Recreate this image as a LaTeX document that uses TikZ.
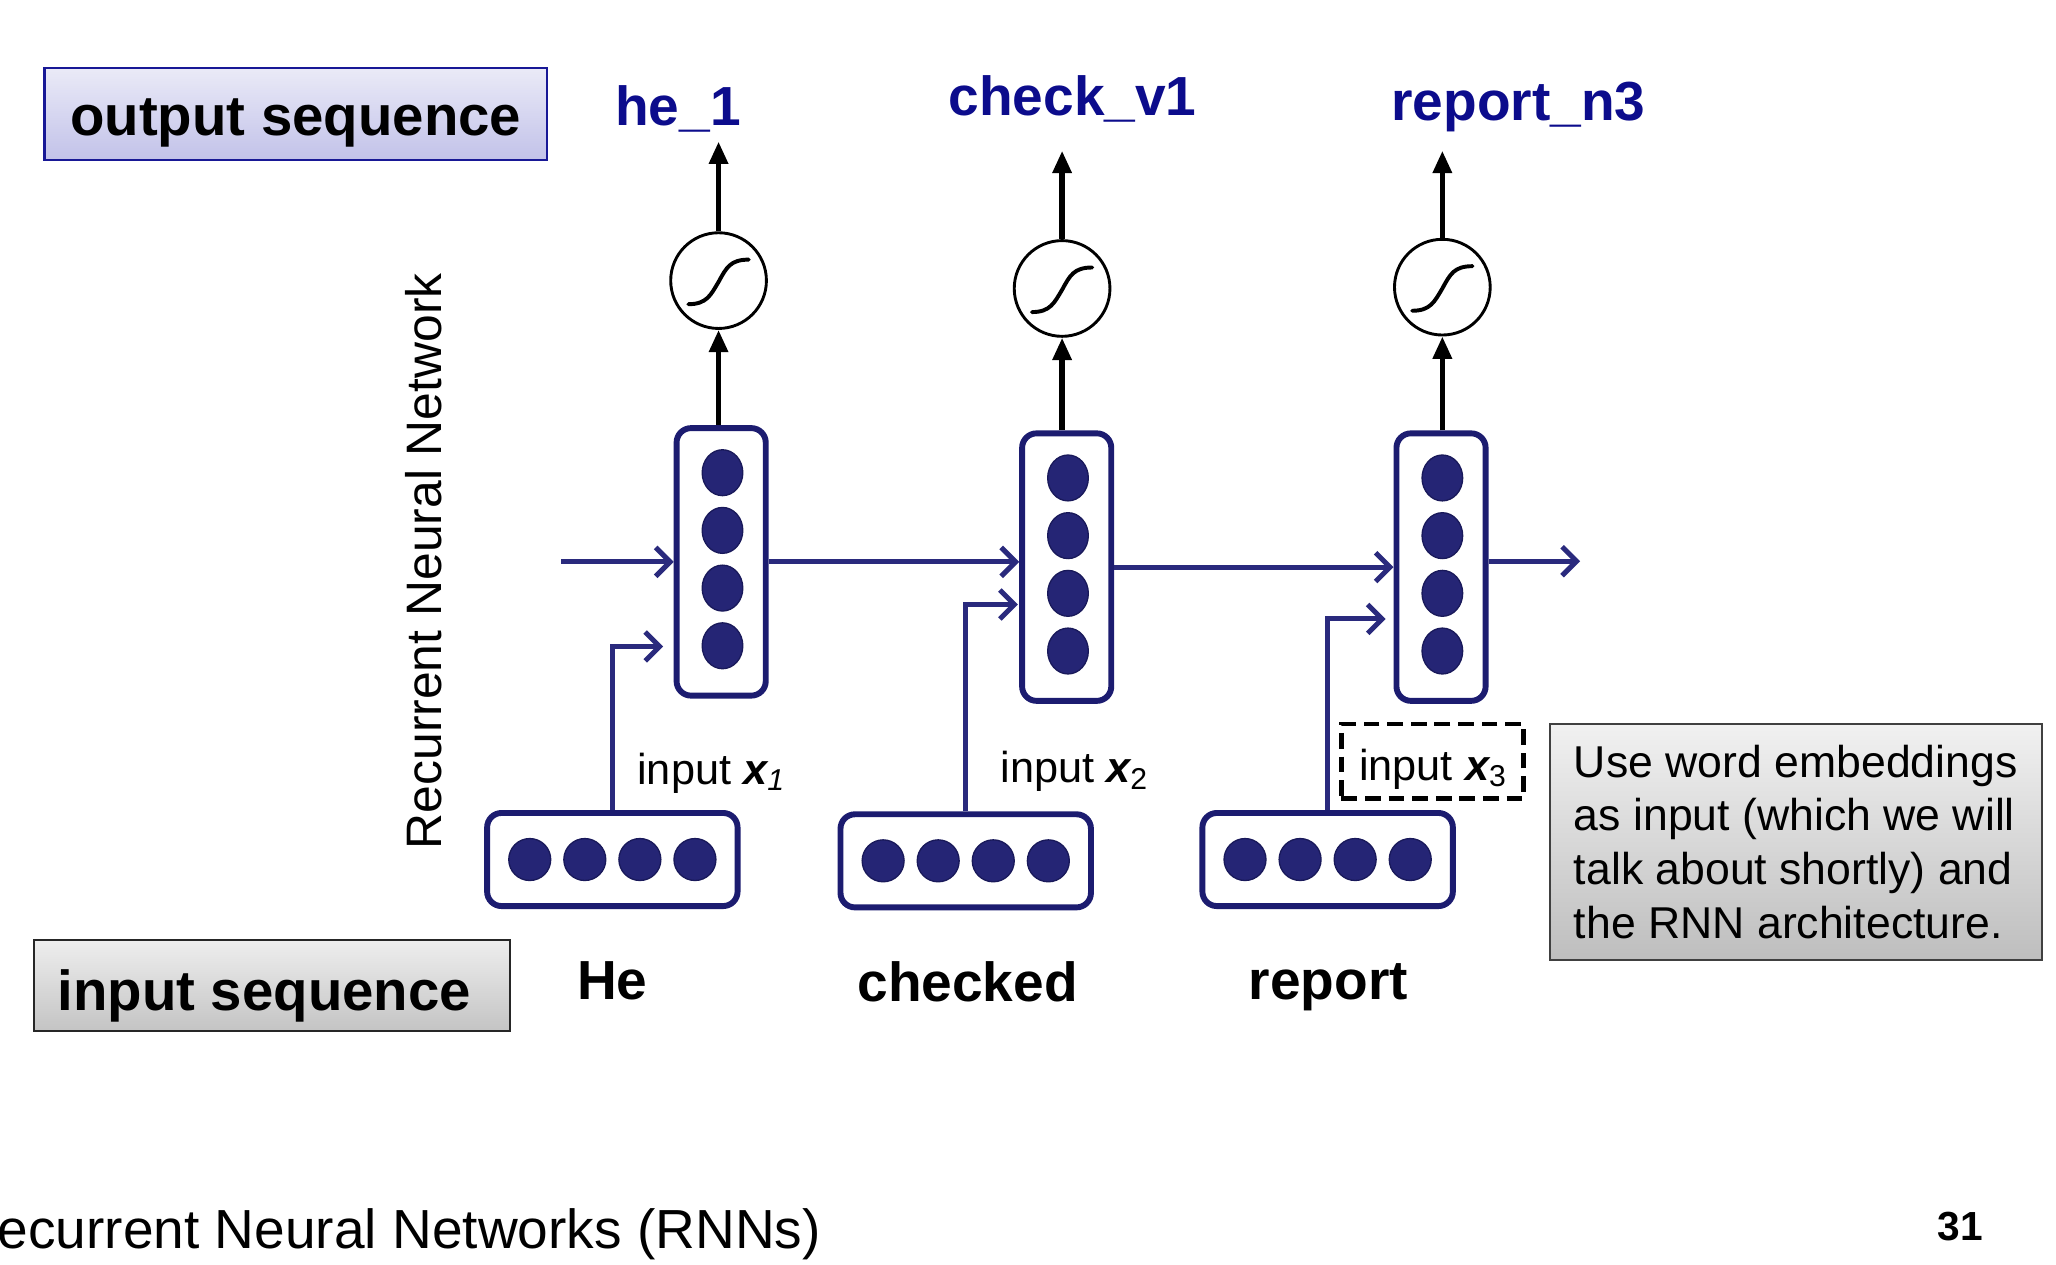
\documentclass[tikz,border=0pt]{standalone}
\usepackage{fontspec}
\setmainfont{Liberation Sans}
\usetikzlibrary{arrows.meta,calc,shapes.geometric}

\definecolor{navy}{RGB}{28,28,112}
\definecolor{dotnavy}{RGB}{37,37,117}
\definecolor{dotrim}{RGB}{25,25,90}
\definecolor{labnavy}{RGB}{12,12,140}
\definecolor{arrnavy}{RGB}{42,42,125}
\definecolor{outborder}{RGB}{24,24,150}

\tikzset{
  hbox/.style={draw=navy, line width=4.5pt, rounded corners=11pt, fill=white,
    minimum width=68pt, minimum height=204pt, inner sep=0pt},
  ebox/.style={draw=navy, line width=4.5pt, rounded corners=11pt, fill=white,
    minimum width=191pt, minimum height=71pt, inner sep=0pt},
  vdot/.style={ellipse, fill=dotnavy, draw=dotrim, line width=1pt,
    minimum width=31pt, minimum height=35pt, inner sep=0pt},
  hdot/.style={circle, fill=dotnavy, draw=dotrim, line width=1pt,
    minimum size=32pt, inner sep=0pt},
  sig/.style={circle, draw=black, line width=2.2pt, fill=white,
    minimum size=73pt, inner sep=0pt},
  narrow/.style={draw=arrnavy, line width=3.8pt,
    -{Straight Barb[length=11pt,width=22pt]}},
  barrow/.style={draw=black, line width=4pt, -{Triangle[length=17pt,width=14pt]}},
  outlab/.style={text=labnavy, font=\bfseries\fontsize{42}{46}\selectfont, inner sep=0pt},
  wordlab/.style={text=black, font=\bfseries\fontsize{42}{46}\selectfont, inner sep=0pt},
  inlab/.style={font=\fontsize{33}{36}\selectfont, inner sep=0pt},
  dashbox/.style={draw=black, line width=3.5pt, dash pattern=on 12pt off 6pt,
    minimum width=139pt, minimum height=57pt, inner sep=0pt, font=\fontsize{33}{36}\selectfont},
  outbox/.style={draw=outborder, line width=1.8pt, top color={rgb,255:red,234;green,234;blue,247},
    bottom color={rgb,255:red,194;green,194;blue,233}, minimum width=383pt, minimum height=70pt,
    inner sep=0pt, font=\bfseries\fontsize{43}{46}\selectfont},
  inbox/.style={draw=black!85, line width=1.6pt, top color={rgb,255:red,238;green,238;blue,238},
    bottom color={rgb,255:red,196;green,196;blue,196}, minimum width=363pt, minimum height=69pt,
    inner sep=0pt, font=\bfseries\fontsize{43}{46}\selectfont},
  notebox/.style={draw=black!75, line width=1.6pt, top color={rgb,255:red,241;green,241;blue,241},
    bottom color={rgb,255:red,190;green,190;blue,190}, minimum width=375pt, minimum height=180pt,
    inner sep=0pt, align=left, font=\fontsize{34}{41}\selectfont},
}

\newcommand\sigcurve[1]{%
  \draw[line width=3pt, line cap=round]
    ($(#1)+(-23,18)$) .. controls ($(#1)+(-9,18)$) and ($(#1)+(-6,11)$) ..
    ($(#1)+(0,1)$) .. controls ($(#1)+(6,-10)$) and ($(#1)+(9,-16)$) ..
    ($(#1)+(23,-16)$);}
\newcommand\lowerby[2]{\raisebox{-#1}[\height][\depth]{#2}}

\begin{document}
\begin{tikzpicture}[x=1pt, y=-1pt]
\useasboundingbox[fill=white] (0,0) rectangle (1568,964);

% header boxes
\node[outbox] (outseq) at (225.5,87) {\lowerby{7pt}{output sequence}};
\node[inbox] (inseq) at (207.5,751.5) {\hspace*{-12pt}\lowerby{8pt}{input sequence}};

% rotated label
\node[rotate=90, font=\fontsize{38}{40}\selectfont, inner sep=0pt] (rnnlab) at (323,428) {Recurrent Neural Network};

% hidden boxes
\node[hbox] (h1) at (550,428.5) {};
\node[hbox] (h2) at (813.5,432.5) {};
\node[hbox] (h3) at (1099,432.5) {};
\foreach \h in {h1,h2,h3}{
  \foreach \k/\dy in {a/-68,b/-24,c/20,d/64}{
    \node[vdot] (\h\k) at ($(\h)+(1,\dy)$) {};
  }
}

% embedding boxes
\node[ebox] (e1) at (467,655.5) {};
\node[ebox] (e2) at (736.5,656.5) {};
\node[ebox] (e3) at (1012.5,655.5) {};
\foreach \e in {e1,e2,e3}{
  \foreach \k/\dx in {a/-63,b/-21,c/21,d/63}{
    \node[hdot] (\e\k) at ($(\e)+(\dx,0)$) {};
  }
}

% sigmoid units
\node[sig] (s1) at (548,214) {};
\node[sig] (s2) at (810,220) {};
\node[sig] (s3) at (1100,219) {};
\sigcurve{s1}
\sigcurve{s2}
\sigcurve{s3}

% output labels
\node[outlab, anchor=base] (o1) at (517,96) {he\_1};
\node[outlab, anchor=base] (o2) at (818,88) {check\_v1};
\node[outlab, anchor=base] (o3) at (1158,92) {report\_n3};

% black arrows
\coordinate (t1) at (548,108);
\coordinate (t2) at (810,115);
\coordinate (t3) at (1100,115);
\draw[barrow] (h1.north -| s1) -- (s1.south);
\draw[barrow] (h2.north -| s2) -- (s2.south);
\draw[barrow] (h3.north -| s3) -- (s3.south);
\draw[barrow] (s1.north) -- (t1);
\draw[barrow] (s2.north) -- (t2);
\draw[barrow] (s3.north) -- (t3);

% recurrent arrows
\coordinate (rin) at (428,428.5);
\coordinate (rout) at (1205,428);
\draw[narrow] (rin) -- (h1.west);
\draw[narrow] (h1.east) -- (h1.east -| h2.west);
\draw[narrow] (h2.east) -- (h2.east -| h3.west);
\draw[narrow] (h3.east |- rout) -- (rout);

% input arrows
\draw[narrow] (e1.north) |- ($(h1.west)+(-8,64.5)$);
\draw[narrow] (e2.north) |- ($(h2.west)+(-1,28.5)$);
\draw[narrow] (e3.north) |- ($(h3.west)+(-6,39.5)$);

% input labels
\node[inlab, anchor=base] (x1) at (542,598) {input {\bfseries\itshape x}\raisebox{-5pt}{\fontsize{23}{23}\selectfont\itshape 1}};
\node[inlab, anchor=base] (x2) at (819,597) {input {\bfseries\itshape x}\raisebox{-5pt}{\fontsize{23}{23}\selectfont 2}};
\node[dashbox] (x3) at (1092.5,580.5) {\lowerby{6pt}{input {\bfseries\itshape x}\raisebox{-5pt}{\fontsize{23}{23}\selectfont 3}}};

% words
\node[wordlab, anchor=base] (w1) at (467,762) {He};
\node[wordlab, anchor=base] (w2) at (738,764) {checked};
\node[wordlab, anchor=base] (w3) at (1013,762) {report};

% note
\node[notebox] (note) at (1369.5,642) {Use word embeddings\\as input (which we will\\talk about shortly) and\\the RNN architecture.};

% footer
\node[anchor=base west, inner sep=0pt, font=\fontsize{42}{44}\selectfont] (foot) at (-2,952) {ecurrent Neural Networks (RNNs)};
\node[anchor=base, inner sep=0pt, font=\bfseries\fontsize{31}{33}\selectfont] (page) at (1495,946) {31};
\end{tikzpicture}
\end{document}
